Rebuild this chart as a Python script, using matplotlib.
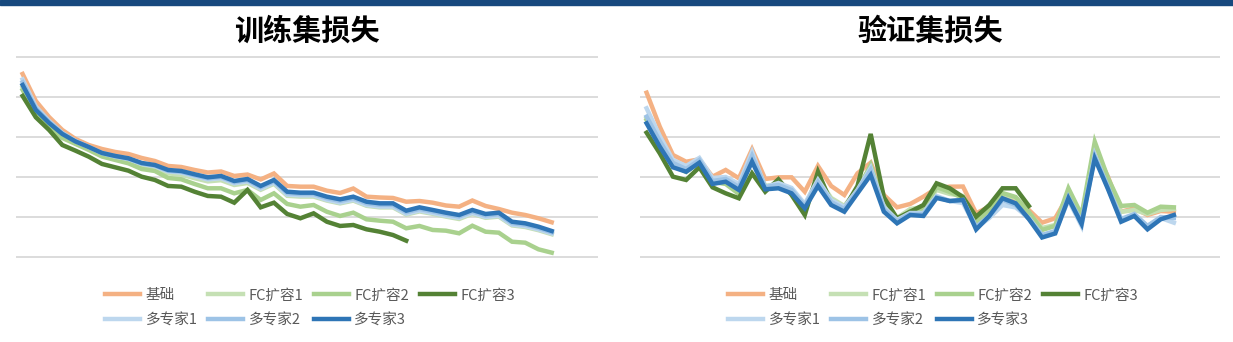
import matplotlib
matplotlib.use("Agg")
import matplotlib.pyplot as plt
from matplotlib.patches import Rectangle

plt.rcParams["font.family"] = ["Noto Sans CJK SC", "DejaVu Sans"]

series_names = ["基础", "FC扩容1", "FC扩容2", "FC扩容3", "多专家1", "多专家2", "多专家3"]
series_colors = ["#F4B183", "#C5E0B4", "#A9D18E", "#548235", "#BDD7EE", "#9DC3E6", "#2E75B6"]
panel_titles = ["训练集损失", "验证集损失"]

# ---- training loss ----
train_base = [2.288, 1.950, 1.750, 1.588, 1.475, 1.400, 1.350, 1.313, 1.288, 1.238,
              1.200, 1.138, 1.125, 1.088, 1.056, 1.069, 1.013, 1.031, 0.969, 1.044,
              0.888, 0.879, 0.879, 0.829, 0.800, 0.856, 0.754, 0.744, 0.738, 0.691,
              0.700, 0.679, 0.644, 0.629, 0.706, 0.638, 0.600, 0.554, 0.525, 0.484,
              0.434]
train_fc1 = [2.120, 1.815, 1.650, 1.510, 1.420, 1.350, 1.275, 1.235, 1.200, 1.140,
             1.110, 1.045, 1.030, 0.985, 0.945, 0.960, 0.900, 0.925, 0.840, 0.915,
             0.765, 0.755, 0.755, 0.705, 0.670, 0.705, 0.640, 0.620, 0.620, 0.530,
             0.570, 0.540, 0.505, 0.475, 0.540, 0.490, 0.505, 0.395, 0.375, 0.335,
             0.285]
train_fc2 = [2.088, 1.800, 1.629, 1.488, 1.413, 1.338, 1.256, 1.213, 1.171, 1.100,
             1.075, 0.988, 0.971, 0.913, 0.859, 0.859, 0.796, 0.838, 0.713, 0.796,
             0.663, 0.629, 0.650, 0.566, 0.513, 0.554, 0.471, 0.454, 0.441, 0.359,
             0.388, 0.338, 0.329, 0.296, 0.391, 0.316, 0.304, 0.191, 0.179, 0.096,
             0.054]
train_fc3 = [2.013, 1.746, 1.588, 1.400, 1.329, 1.254, 1.163, 1.121, 1.079, 1.004,
             0.963, 0.888, 0.879, 0.816, 0.763, 0.754, 0.679, 0.838, 0.621, 0.679,
             0.538, 0.484, 0.546, 0.441, 0.388, 0.400, 0.346, 0.316, 0.275, 0.204]
train_moe1 = [2.220, 1.880, 1.700, 1.550, 1.450, 1.375, 1.300, 1.255, 1.225, 1.165,
              1.135, 1.070, 1.055, 1.010, 0.970, 0.985, 0.920, 0.945, 0.855, 0.930,
              0.780, 0.770, 0.770, 0.715, 0.680, 0.715, 0.650, 0.630, 0.630, 0.540,
              0.580, 0.550, 0.515, 0.490, 0.550, 0.500, 0.515, 0.405, 0.385, 0.345,
              0.295]
train_moe2 = [2.185, 1.860, 1.690, 1.545, 1.447, 1.375, 1.300, 1.260, 1.230, 1.170,
              1.142, 1.078, 1.065, 1.022, 0.983, 0.999, 0.935, 0.960, 0.872, 0.947,
              0.798, 0.787, 0.787, 0.735, 0.701, 0.735, 0.671, 0.651, 0.651, 0.560,
              0.601, 0.569, 0.535, 0.507, 0.569, 0.519, 0.535, 0.423, 0.403, 0.362,
              0.310]
train_moe3 = [2.150, 1.838, 1.675, 1.538, 1.444, 1.375, 1.300, 1.263, 1.234, 1.175,
              1.150, 1.088, 1.075, 1.034, 0.996, 1.013, 0.950, 0.975, 0.888, 0.963,
              0.816, 0.804, 0.804, 0.754, 0.721, 0.754, 0.691, 0.671, 0.671, 0.579,
              0.621, 0.588, 0.554, 0.525, 0.588, 0.538, 0.554, 0.441, 0.421, 0.379,
              0.325]

# ---- validation loss ----
val_base = [2.054, 1.629, 1.275, 1.191, 1.221, 1.004, 1.088, 0.984, 1.346, 0.975,
            0.996, 0.996, 0.816, 1.138, 0.888, 0.775, 1.046, 1.179, 0.775, 0.621,
            0.663, 0.754, 0.859, 0.879, 0.881, 0.546, 0.629, 0.775, 0.721, 0.588,
            0.429, 0.484, 0.775, 0.463, 1.338, 1.004, 0.566, 0.609, 0.525, 0.575,
            0.566]
val_fc1 = [1.738, 1.450, 1.175, 1.088, 1.200, 0.950, 0.963, 0.838, 1.263, 0.888,
           0.913, 0.838, 0.638, 0.988, 0.738, 0.638, 0.850, 1.138, 0.663, 0.488,
           0.600, 0.625, 0.838, 0.788, 0.763, 0.463, 0.613, 0.788, 0.738, 0.550,
           0.363, 0.400, 0.813, 0.488, 1.388, 0.938, 0.563, 0.588, 0.538, 0.588,
           0.600]
val_fc2 = [1.713, 1.425, 1.150, 1.063, 1.188, 0.938, 0.913, 0.788, 1.238, 0.863,
           0.913, 0.813, 0.588, 0.975, 0.713, 0.613, 0.825, 1.150, 0.638, 0.463,
           0.575, 0.588, 0.875, 0.813, 0.738, 0.438, 0.588, 0.800, 0.750, 0.563,
           0.338, 0.388, 0.859, 0.525, 1.441, 0.988, 0.638, 0.650, 0.554, 0.629,
           0.621]
val_fc3 = [1.554, 1.296, 1.004, 0.963, 1.121, 0.871, 0.796, 0.734, 1.046, 0.816,
           0.971, 0.775, 0.525, 1.066, 0.679, 0.609, 0.888, 1.538, 0.746, 0.484,
           0.566, 0.650, 0.921, 0.859, 0.750, 0.504, 0.650, 0.859, 0.859, 0.638]
val_moe1 = [1.859, 1.513, 1.213, 1.138, 1.238, 0.988, 1.000, 0.913, 1.313, 0.875,
            0.925, 0.863, 0.663, 0.963, 0.713, 0.625, 0.838, 1.113, 0.625, 0.463,
            0.550, 0.550, 0.763, 0.700, 0.675, 0.363, 0.488, 0.650, 0.620, 0.488,
            0.275, 0.313, 0.713, 0.388, 1.275, 0.863, 0.463, 0.513, 0.388, 0.488,
            0.429]
val_moe2 = [1.754, 1.450, 1.175, 1.100, 1.213, 0.950, 0.975, 0.875, 1.263, 0.875,
            0.900, 0.838, 0.638, 0.938, 0.688, 0.600, 0.825, 1.088, 0.600, 0.450,
            0.538, 0.538, 0.750, 0.700, 0.713, 0.375, 0.513, 0.713, 0.650, 0.475,
            0.275, 0.325, 0.750, 0.438, 1.263, 0.875, 0.475, 0.538, 0.388, 0.500,
            0.488]
val_moe3 = [1.671, 1.379, 1.121, 1.066, 1.179, 0.913, 0.941, 0.838, 1.191, 0.846,
            0.859, 0.796, 0.609, 0.888, 0.650, 0.566, 0.796, 1.025, 0.566, 0.421,
            0.525, 0.513, 0.738, 0.700, 0.713, 0.344, 0.513, 0.734, 0.671, 0.475,
            0.244, 0.294, 0.734, 0.413, 1.231, 0.850, 0.441, 0.513, 0.346, 0.471,
            0.525]

n_categories = 44
grid_values = [0.0, 0.5, 1.0, 1.5, 2.0, 2.5]

panels = [
    [train_base, train_fc1, train_fc2, train_fc3, train_moe1, train_moe2, train_moe3],
    [val_base, val_fc1, val_fc2, val_fc3, val_moe1, val_moe2, val_moe3],
]

fig = plt.figure(figsize=(12.33, 3.42), dpi=100)
fig.patches.append(Rectangle((0, 1 - 5 / 342), 1, 5 / 342, transform=fig.transFigure,
                             color="#17497E", zorder=0))

axes_boxes = [
    [16 / 1233, 77 / 342, 582 / 1233, 216 / 342],
    [640 / 1233, 77 / 342, 580 / 1233, 216 / 342],
]
legend_centers = [310 / 1233, 933 / 1233]

for box, title, data, legend_x in zip(axes_boxes, panel_titles, panels, legend_centers):
    ax = fig.add_axes(box)
    handles = []
    for values, name, color in zip(data, series_names, series_colors):
        line, = ax.plot(range(len(values)), values, color=color, linewidth=3.2,
                        solid_joinstyle="miter", label=name)
        handles.append(line)

    ax.set_xlim(-0.5, n_categories - 0.5)
    ax.set_ylim(-0.1, 2.6)
    ax.set_yticks(grid_values)
    ax.set_xticks([])
    ax.grid(axis="y", color="#D9D9D9", linewidth=1.3)
    ax.set_axisbelow(True)
    ax.tick_params(left=False, labelleft=False)
    for spine in ax.spines.values():
        spine.set_visible(False)

    ax.text(0.5, 1.083, title, transform=ax.transAxes, ha="center", va="center",
            fontsize=21, fontweight="bold", color="black")

    # legend laid out row by row like the original: column-major reorder
    order = [0, 4, 1, 5, 2, 6, 3]
    leg = fig.legend([handles[i] for i in order], [series_names[i] for i in order],
                     loc="center", bbox_to_anchor=(legend_x, 1 - 308 / 342),
                     ncol=4, frameon=False, fontsize=10.5, handlelength=2.4,
                     handletextpad=0.35, columnspacing=0.75, labelspacing=0.75)
    for text in leg.get_texts():
        text.set_color("#595959")

fig.savefig("out.png", dpi=100)
